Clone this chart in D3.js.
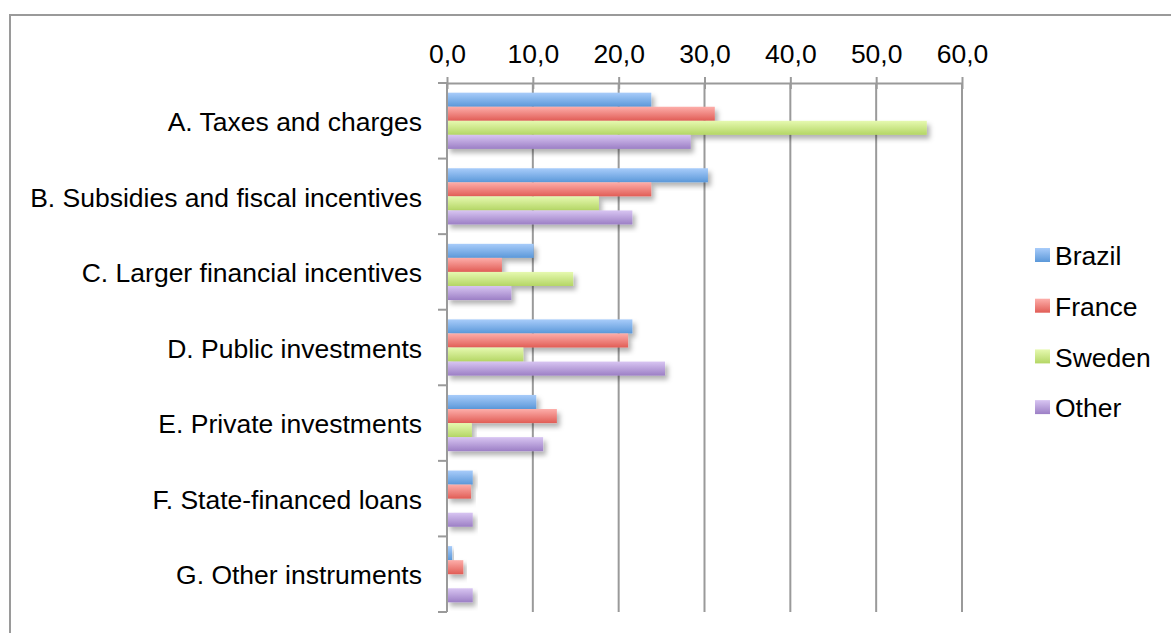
<!DOCTYPE html>
<html>
<head>
<meta charset="utf-8">
<script src="https://cdn.jsdelivr.net/npm/d3@7"></script>
<style>
  html, body { margin: 0; padding: 0; background: #fff; }
  svg { display: block; font-family: "Liberation Sans", Arial, Helvetica, sans-serif; }
</style>
</head>
<body>
<svg id="chart" width="1171" height="633"></svg>
<script>
// Instrument categories, top to bottom
const categories = [
  "A. Taxes and charges",
  "B. Subsidies and fiscal incentives",
  "C. Larger financial incentives",
  "D. Public investments",
  "E. Private investments",
  "F. State-financed loans",
  "G. Other instruments"
];

const seriesNames = ["Brazil", "France", "Sweden", "Other"];

// Share per category (%)
const brazil = [23.8, 30.4, 10.1, 21.6, 10.4, 3.0, 0.6];
const france = [31.2, 23.8, 6.4, 21.1, 12.8, 2.8, 1.9];
const sweden = [55.9, 17.7, 14.7, 8.9, 2.9, 0, 0];
const other  = [28.4, 21.6, 7.5, 25.4, 11.2, 3.0, 3.0];

const tickValues = [0, 10, 20, 30, 40, 50, 60];

const seriesValues = [brazil, france, sweden, other];
const gradientStops = [
  ["#a8ccfa", "#5b98d9"],
  ["#fdaeaa", "#e15d56"],
  ["#e6f9b0", "#b4d665"],
  ["#d8c5f2", "#9c7fc5"]
];

const fontSize = 26.5;
const svg = d3.select("#chart");
const gridColor = "#9a9a9a";

// Outer frame (top and left edges visible)
svg.append("path")
  .attr("d", "M10,633 L10,15 L1171,15")
  .attr("fill", "none")
  .attr("stroke", gridColor)
  .attr("stroke-width", 2);

const x = d3.scaleLinear().domain([0, 60]).range([447, 962]);
const y = d3.scaleBand().domain(categories).range([83, 612]).padding(0);
const inner = d3.scaleBand().domain(seriesNames)
  .range([y.bandwidth() * 0.128, y.bandwidth() * 0.872]).padding(0);

const defs = svg.append("defs");
seriesNames.forEach((s, i) => {
  const g = defs.append("linearGradient")
    .attr("id", "grad" + i)
    .attr("x1", 0).attr("y1", 0).attr("x2", 0).attr("y2", 1);
  g.append("stop").attr("offset", "0%").attr("stop-color", gradientStops[i][0]);
  g.append("stop").attr("offset", "100%").attr("stop-color", gradientStops[i][1]);
});
const shadow = defs.append("filter").attr("id", "shadow")
  .attr("x", "-10%").attr("y", "-40%").attr("width", "130%").attr("height", "200%");
shadow.append("feDropShadow")
  .attr("dx", 3).attr("dy", 4).attr("stdDeviation", 2.5)
  .attr("flood-color", "#000").attr("flood-opacity", 0.3);

// Vertical gridlines
svg.append("g").selectAll("line")
  .data(tickValues.slice(1))
  .join("line")
  .attr("x1", d => x(d)).attr("x2", d => x(d))
  .attr("y1", 83).attr("y2", 612)
  .attr("stroke", gridColor).attr("stroke-width", 2);

// Top axis
const xAxis = svg.append("g")
  .attr("transform", "translate(0,83)")
  .call(d3.axisTop(x).tickValues(tickValues)
    .tickFormat(d => d3.format(".1f")(d).replace(".", ","))
    .tickSize(6).tickSizeOuter(0).tickPadding(14));
xAxis.select(".domain").attr("stroke", gridColor).attr("stroke-width", 2);
xAxis.selectAll(".tick line").attr("stroke", gridColor).attr("stroke-width", 2)
  .attr("y1", 6).attr("y2", -6);
xAxis.selectAll(".tick text")
  .attr("fill", "#000").attr("font-size", fontSize)
  .attr("font-family", "'Liberation Sans', Arial, sans-serif");

// Bars
const groups = svg.append("g").selectAll("g")
  .data(categories)
  .join("g")
  .attr("transform", d => `translate(0,${y(d)})`);

groups.selectAll("rect")
  .data((c, ci) => seriesNames.map((s, si) => ({ s, si, v: seriesValues[si][ci] })))
  .join("rect")
  .filter(d => d.v > 0)
  .attr("x", x(0))
  .attr("y", d => inner(d.s))
  .attr("width", d => x(d.v) - x(0))
  .attr("height", inner.bandwidth())
  .attr("fill", d => `url(#grad${d.si})`)
  .attr("filter", "url(#shadow)");

// Left axis with category boundary ticks
const yAxisG = svg.append("g");
yAxisG.append("line")
  .attr("x1", x(0)).attr("x2", x(0))
  .attr("y1", 83).attr("y2", 612)
  .attr("stroke", gridColor).attr("stroke-width", 2);
const boundaries = categories.map(c => y(c)).concat([y(categories[categories.length - 1]) + y.bandwidth()]);
yAxisG.selectAll("line.tick")
  .data(boundaries)
  .join("line")
  .attr("class", "tick")
  .attr("x1", x(0) - 9).attr("x2", x(0))
  .attr("y1", d => d).attr("y2", d => d)
  .attr("stroke", gridColor).attr("stroke-width", 2);

// Category labels
svg.append("g").selectAll("text")
  .data(categories)
  .join("text")
  .attr("x", 422)
  .attr("y", d => y(d) + y.bandwidth() / 2 + 1)
  .attr("dy", "0.35em")
  .attr("text-anchor", "end")
  .attr("font-size", fontSize)
  .attr("fill", "#000")
  .text(d => d);

// Legend
const legend = svg.append("g").attr("transform", "translate(1035,248)");
const items = legend.selectAll("g")
  .data(seriesNames)
  .join("g")
  .attr("transform", (d, i) => `translate(0,${i * 50.7})`);
items.append("rect")
  .attr("width", 15).attr("height", 14)
  .attr("fill", (d, i) => `url(#grad${i})`);
items.append("text")
  .attr("x", 20).attr("y", 8)
  .attr("dy", "0.35em")
  .attr("font-size", fontSize)
  .attr("fill", "#000")
  .text(d => d);
</script>
</body>
</html>
